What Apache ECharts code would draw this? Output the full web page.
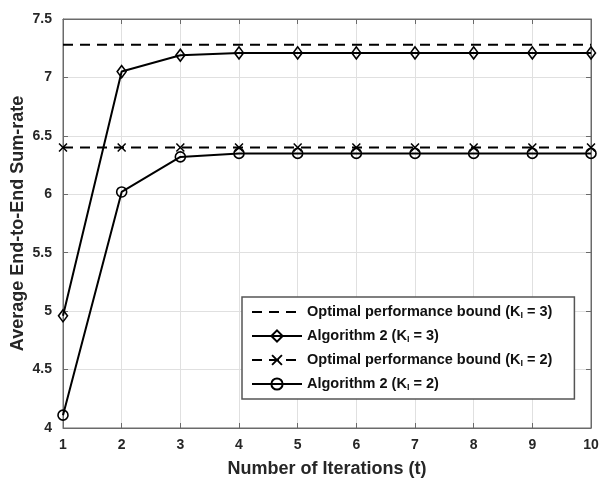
<!DOCTYPE html>
<html><head><meta charset="utf-8">
<script src="https://cdn.jsdelivr.net/npm/echarts@6/dist/echarts.min.js"></script>
<style>html,body{margin:0;padding:0;background:#fff}#c{width:599px;height:478px}</style>
</head><body><div id="c"></div>
<script>
const iterations = [1,2,3,4,5,6,7,8,9,10];
const optK3 = [7.28,7.28,7.28,7.28,7.28,7.28,7.28,7.28,7.28,7.28];
const algK3 = [4.96,7.05,7.19,7.21,7.21,7.21,7.21,7.21,7.21,7.21];
const optK2 = [6.40,6.40,6.40,6.40,6.40,6.40,6.40,6.40,6.40,6.40];
const algK2 = [4.11,6.02,6.32,6.35,6.35,6.35,6.35,6.35,6.35,6.35];
const seriesNames = [
  'Optimal performance bound (K_I = 3)',
  'Algorithm 2 (K_I = 3)',
  'Optimal performance bound (K_I = 2)',
  'Algorithm 2 (K_I = 2)'
];
const xTitle = 'Number of Iterations (t)';
const yTitle = 'Average End-to-End Sum-rate';

const pair = arr => iterations.map((x,i)=>[x,arr[i]]);
const FONT = '"Liberation Sans", Arial, sans-serif';
const AX = '#6a6a6a';
const TXT = '#262626';
const xShape = 'path://M0,1.2L1.2,0L5,3.8L8.8,0L10,1.2L6.2,5L10,8.8L8.8,10L5,6.2L1.2,10L0,8.8L3.8,5Z';

const chart = echarts.init(document.getElementById('c'));
chart.setOption({
  animation: false,
  backgroundColor: '#fff',
  grid: {left: 63, top: 19, right: 8, bottom: 50, show: true, borderColor: AX, borderWidth: 1,
         containLabel: false, outerBoundsMode: 'none'},
  xAxis: [{
    type: 'value', min: 1, max: 10, interval: 1,
    name: xTitle, nameLocation: 'middle', nameGap: 32, nameMoveOverlap: false,
    nameTextStyle: {fontFamily: FONT, fontWeight: 'bold', fontSize: 18, color: TXT},
    axisLine: {show: true, lineStyle: {color: AX, width: 1}},
    axisTick: {show: true, inside: true, length: 5, lineStyle: {color: AX}},
    axisLabel: {fontFamily: FONT, fontWeight: 'bold', fontSize: 14, color: TXT, margin: 10},
    splitLine: {show: true, lineStyle: {color: '#e0e0e0', width: 1}}
  },{
    type: 'value', min: 1, max: 10, interval: 1, position: 'top',
    axisLine: {show: true, lineStyle: {color: AX}},
    axisTick: {show: true, inside: true, length: 5, lineStyle: {color: AX}},
    axisLabel: {show: false}, splitLine: {show: false}
  }],
  yAxis: [{
    type: 'value', min: 4, max: 7.5, interval: 0.5,
    name: yTitle, nameLocation: 'middle', nameGap: 36, nameMoveOverlap: false,
    nameTextStyle: {fontFamily: FONT, fontWeight: 'bold', fontSize: 18, color: TXT},
    axisLine: {show: true, lineStyle: {color: AX, width: 1}},
    axisTick: {show: true, inside: true, length: 5, lineStyle: {color: AX}},
    axisLabel: {fontFamily: FONT, fontWeight: 'bold', fontSize: 14, color: TXT, margin: 11},
    splitLine: {show: true, lineStyle: {color: '#e0e0e0', width: 1}}
  },{
    type: 'value', min: 4, max: 7.5, interval: 0.5, position: 'right',
    axisLine: {show: true, lineStyle: {color: AX}},
    axisTick: {show: true, inside: true, length: 5, lineStyle: {color: AX}},
    axisLabel: {show: false}, splitLine: {show: false}
  }],
  legend: {
    orient: 'vertical', left: 242, top: 297,
    backgroundColor: '#fff', borderColor: '#555', borderWidth: 1.5,
    padding: [7, 22, 7, 9],
    itemWidth: 50, itemHeight: 14, itemGap: 8,
    data: [
      {name: seriesNames[0], itemStyle: {opacity: 0}},
      {name: seriesNames[1]},
      {name: seriesNames[2]},
      {name: seriesNames[3]}
    ],
    formatter: function(n){
      const p = n.split('K_I');
      return '{a|' + p[0] + 'K}{s|I}{a|' + p[1] + '}';
    },
    textStyle: {
      fontFamily: FONT, fontWeight: 'bold', fontSize: 14.5, color: '#111', lineHeight: 16,
      rich: {
        a: {fontFamily: FONT, fontWeight: 'bold', fontSize: 14.5, color: '#111', lineHeight: 16},
        s: {fontFamily: FONT, fontWeight: 'bold', fontSize: 9, color: '#111', lineHeight: 16, verticalAlign: 'bottom'}
      }
    }
  },
  series: [
    {
      name: seriesNames[0], type: 'line', data: pair(optK3),
      symbol: 'none', lineStyle: {color: '#000', width: 2, type: [10,7]},
      itemStyle: {color: '#000'}
    },
    {
      name: seriesNames[1], type: 'line', data: pair(algK3),
      symbol: 'diamond', symbolSize: [9,12],
      lineStyle: {color: '#000', width: 2},
      itemStyle: {color: 'rgba(255,255,255,0)', borderColor: '#000', borderWidth: 1.6}
    },
    {
      name: seriesNames[2], type: 'line', data: pair(optK2),
      symbol: xShape, symbolSize: 9,
      lineStyle: {color: '#000', width: 2, type: [10,7]},
      itemStyle: {color: '#000'}
    },
    {
      name: seriesNames[3], type: 'line', data: pair(algK2),
      symbol: 'circle', symbolSize: 10,
      lineStyle: {color: '#000', width: 2},
      itemStyle: {color: 'rgba(255,255,255,0)', borderColor: '#000', borderWidth: 1.6}
    }
  ]
});
</script></body></html>
